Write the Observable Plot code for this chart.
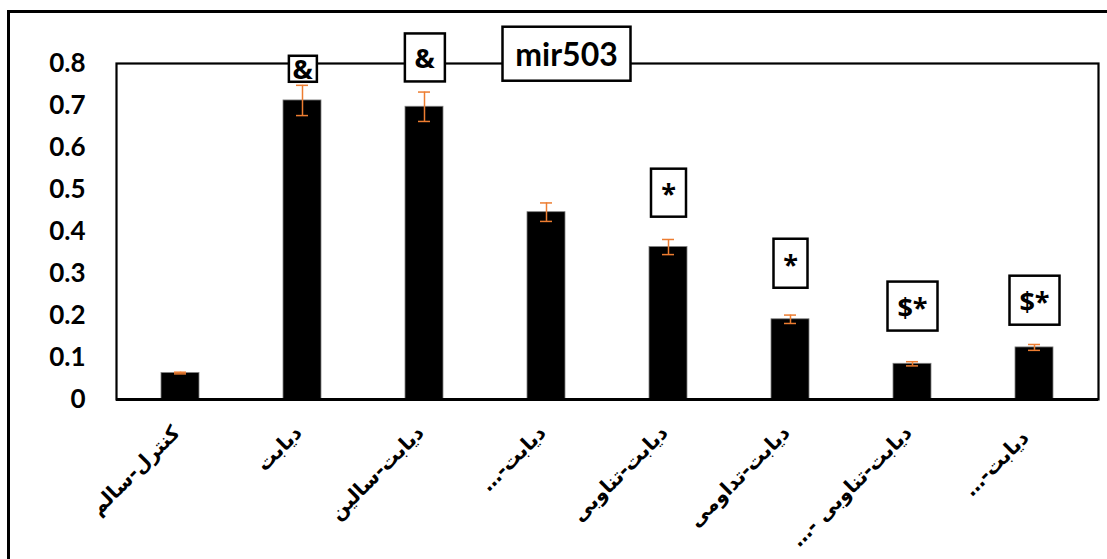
<!DOCTYPE html>
<html>
<head>
<meta charset="utf-8">
<script src="https://cdn.jsdelivr.net/npm/d3@7"></script>
<script src="https://cdn.jsdelivr.net/npm/@observablehq/plot@0.6"></script>
<style>
  html, body { margin: 0; padding: 0; background: #fff; }
  #chart { position: relative; width: 1107px; height: 559px; }
</style>
</head>
<body>
<div id="chart"></div>
<script>
// ---- data ----
const RLM = "\u200F";
const categories = [
  "کنترل-سالم",
  "دیابت",
  "دیابت-سالین",
  "دیابت-…" + RLM,
  "دیابت-تناوبی",
  "دیابت-تداومی",
  "دیابت-تناوبی -…" + RLM,
  "دیابت-…" + RLM + " "
];
const means = [0.063, 0.712, 0.697, 0.446, 0.363, 0.191, 0.085, 0.124];
const errors = [0.002, 0.036, 0.035, 0.022, 0.018, 0.010, 0.005, 0.007];
const yTicks = [0, 0.1, 0.2, 0.3, 0.4, 0.5, 0.6, 0.7, 0.8];
const annoCategories = [categories[1], categories[2], categories[4], categories[5], categories[6], categories[7]];
const annoLabels = ["&", "&", "*", "*", "$*", "$*"];
const annoY = [0.783, 0.81, 0.488, 0.32, 0.218, 0.232];
const title = "mir503";

// ---- styles (not data) ----
const boxSizes = [[28, 26], [40, 48], [35, 48], [34, 49], [50, 49], [50, 49]];
const titleBox = [128, 54];
const errColor = "#ED7D31";

const rows = categories.map((c, i) => ({cat: c, v: means[i], lo: means[i] - errors[i], hi: means[i] + errors[i]}));
const annos = annoLabels.map((t, i) => ({cat: annoCategories[i], y: annoY[i], t}));

const plot = Plot.plot({
  width: 1107,
  height: 559,
  marginLeft: 116,
  marginRight: 9,
  marginTop: 63,
  marginBottom: 160,
  style: {background: "transparent", overflow: "visible"},
  x: {domain: categories, paddingInner: 0.69, paddingOuter: 0.345, label: null, tickSize: 0, tickPadding: 30, tickRotate: -45},
  y: {domain: [0, 0.8], ticks: yTicks, tickFormat: d => String(+d.toFixed(1)), label: null, tickSize: 0, tickPadding: 31},
  marks: [
    Plot.barY(rows, {x: "cat", y: "v", fill: "#000", stroke: "#7f7f7f", strokeWidth: 0.8}),
    Plot.ruleX(rows, {x: "cat", y1: "lo", y2: "hi", stroke: errColor, strokeWidth: 1.5}),
    Plot.tickY(rows, {x: "cat", y: "lo", stroke: errColor, strokeWidth: 1.5, insetLeft: 13, insetRight: 13}),
    Plot.tickY(rows, {x: "cat", y: "hi", stroke: errColor, strokeWidth: 1.5, insetLeft: 13, insetRight: 13}),
    Plot.frame({stroke: "#000", strokeWidth: 2.2}),
    Plot.ruleY([0], {stroke: "#000", strokeWidth: 3}),
    Plot.text(annos, {x: "cat", y: "y", text: "t", fontSize: 27, fontWeight: "bold", fill: "#000"}),
    Plot.text([title], {frameAnchor: "top", text: d => d, dx: -41, dy: -20, fontSize: 32, fontWeight: "bold", fill: "#000"})
  ]
});

const svg = d3.select(plot);
svg.selectAll("g[aria-label='y-axis'] text, g[aria-label='y-axis tick label'] text")
  .style("font-family", "Lato, 'Open Sans', sans-serif").style("font-size", "26px").style("font-weight", "bold").attr("fill", "#000");
svg.selectAll("g[aria-label='x-axis'] text, g[aria-label='x-axis tick label'] text")
  .style("font-family", "'DejaVu Sans', sans-serif").style("font-size", "20px").style("font-weight", "bold").attr("fill", "#000")
  .attr("transform", function() { const t = this.getAttribute("transform"); return t ? "translate(-4,0) " + t : null; });
const textGroups = svg.selectAll("g[aria-label='text']").nodes();
d3.select(textGroups[0]).selectAll("text").style("font-family", "'Open Sans', 'DejaVu Sans', sans-serif");
d3.select(textGroups[1]).selectAll("text").style("font-family", "Lato, 'Open Sans', sans-serif");

document.getElementById("chart").appendChild(plot);

// outer border lines (top and left)
svg.insert("path", ":first-child")
  .attr("d", "M8.5,560 L8.5,11.5 L1108,11.5")
  .attr("fill", "none").attr("stroke", "#000").attr("stroke-width", 3);

// boxes behind annotation texts (positioned from rendered text)
const svgRect = plot.getBoundingClientRect();
const boxLayer = svg.append("g").attr("aria-label", "boxes");
function boxAround(textNode, w, h) {
  const b = textNode.getBoundingClientRect();
  const cx = b.left - svgRect.left + b.width / 2;
  const cy = b.top - svgRect.top + b.height / 2;
  boxLayer.append("rect")
    .attr("x", cx - w / 2).attr("y", cy - h / 2).attr("width", w).attr("height", h)
    .attr("fill", "#fff").attr("stroke", "#000").attr("stroke-width", 2.5);
}
d3.select(textGroups[0]).selectAll("text").nodes().forEach((n, i) => boxAround(n, boxSizes[i][0], boxSizes[i][1]));
d3.select(textGroups[1]).selectAll("text").nodes().forEach(n => boxAround(n, titleBox[0], titleBox[1]));
// bring texts above boxes
textGroups.forEach(g => plot.appendChild(g));
</script>
</body>
</html>
